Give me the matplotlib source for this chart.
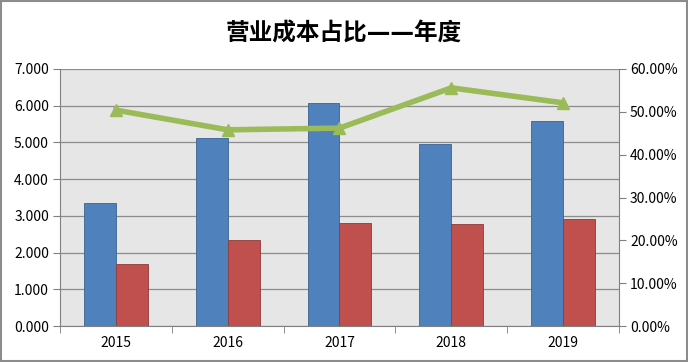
import numpy as np
import matplotlib.pyplot as plt
from matplotlib.ticker import FuncFormatter, MultipleLocator, FixedLocator

plt.rcParams['font.family'] = ['Noto Sans CJK SC', 'DejaVu Sans']

years = ['2015', '2016', '2017', '2018', '2019']
revenue = [3.35, 5.12, 6.08, 4.96, 5.59]
cost = [1.69, 2.34, 2.81, 2.78, 2.92]
ratio = [0.504, 0.458, 0.462, 0.556, 0.521]

fig = plt.figure(figsize=(6.88, 3.62), dpi=100)
ax = fig.add_axes([0.0872, 0.0994, 0.8125, 0.71])
ax.set_facecolor('#e6e6e6')

x = np.arange(len(years))
w = 0.286
ax.bar(x - w / 2, revenue, w, color='#4f81bd', edgecolor='#3a6494', linewidth=0.6, zorder=3)
ax.bar(x + w / 2, cost, w, color='#c0504d', edgecolor='#8e3a38', linewidth=0.6, zorder=3)

ax.set_xlim(-0.5, 4.5)
ax.set_ylim(0, 7)
ax.yaxis.set_major_locator(MultipleLocator(1))
ax.yaxis.set_major_formatter(FuncFormatter(lambda v, p: '%.3f' % v))
ax.grid(axis='y', color='#8c8c8c', linewidth=0.9, zorder=1)
ax.set_xticks(x)
ax.set_xticklabels(years)
ax.xaxis.set_minor_locator(FixedLocator(np.arange(-0.5, 5, 1)))
ax.tick_params(axis='x', which='major', length=0, pad=7)
ax.tick_params(axis='x', which='minor', length=5, color='#808080')
ax.tick_params(axis='y', length=5, color='#808080', pad=3)
ax.tick_params(labelsize=10)
for s in ['top', 'right']:
    ax.spines[s].set_visible(False)
ax.spines['left'].set_color('#808080')
ax.spines['bottom'].set_color('#808080')

ax2 = ax.twinx()
ax2.plot(x, ratio, color='#9bbb59', linewidth=4, marker='^', markersize=9, zorder=5)
ax2.set_ylim(0, 0.6)
ax2.yaxis.set_major_locator(MultipleLocator(0.1))
ax2.yaxis.set_major_formatter(FuncFormatter(lambda v, p: '%.2f%%' % (v * 100)))
ax2.tick_params(axis='y', length=5, color='#808080', labelsize=10, pad=3)
for s in ['top', 'left', 'bottom']:
    ax2.spines[s].set_visible(False)
ax2.spines['right'].set_color('#808080')

# DejaVu first so the dashes join up, CJK glyphs fall back to Noto
fig.suptitle('营业成本占比——年度', x=0.5, y=0.94, fontsize=17, fontweight='heavy',
             family=['DejaVu Sans', 'Noto Sans CJK SC'])

border = plt.Rectangle((0.002, 0.003), 0.996, 0.994, transform=fig.transFigure,
                       fill=False, edgecolor='#8c8c8c', linewidth=1.5)
fig.patches.append(border)

fig.savefig('out.png', dpi=100)
